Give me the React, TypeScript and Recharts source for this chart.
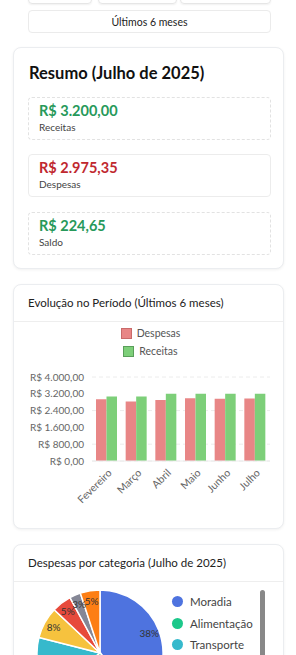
import React from "react";
import { BarChart, Bar, XAxis, YAxis, CartesianGrid, Legend, PieChart, Pie, Cell } from "recharts";

const meses = ["Fevereiro", "Março", "Abril", "Maio", "Junho", "Julho"];
const despesas = [2940, 2830, 2910, 2990, 2960, 2975.35];
const receitas = [3070, 3070, 3200, 3200, 3200, 3200];
const yTicks = [0, 800, 1600, 2400, 3200, 4000];

const categorias = ["Moradia", "Alimentação", "Transporte", "Lazer", "Saúde", "Educação", "Outros"];
const valoresCategoria = [1130, 800, 420, 240, 150, 85.35, 150];
const coresCategoria = ["#4e73df", "#1cc88a", "#36b9cc", "#f6c23e", "#e74a3b", "#858796", "#fd7e14"];

const resumoValores = [3200, 2975.35, 224.65];
const resumoLabels = ["Receitas", "Despesas", "Saldo"];

const FONT = "Lato, 'Noto Sans', sans-serif";
const COR_DESP = "#e88686";
const COR_REC = "#7dcf79";

function brl(v: number) {
  const [int, dec] = v.toFixed(2).split(".");
  const withDots = int.replace(/\B(?=(\d{3})+(?!\d))/g, ".");
  return "R$ " + withDots + "," + dec;
}

const barData = meses.map((m, i) => ({ mes: m, Despesas: despesas[i], Receitas: receitas[i] }));
const pieData = categorias.map((c, i) => ({ name: c, value: valoresCategoria[i] }));

const card: React.CSSProperties = {
  position: "absolute",
  left: 13,
  width: 271,
  background: "#fff",
  border: "1px solid #ebedf0",
  borderRadius: 8,
  boxShadow: "0 1px 3px rgba(0,0,0,0.06)",
  boxSizing: "border-box",
  overflow: "hidden",
};

const BarLegend = () => (
  <div style={{ fontFamily: FONT, fontSize: 10.5, color: "#555", paddingLeft: 18, marginTop: -2 }}>
    {[["Despesas", COR_DESP, "#c96a6a"], ["Receitas", COR_REC, "#5a9e5a"]].map(([n, c, b]) => (
      <div key={n} style={{ display: "flex", justifyContent: "center", alignItems: "center", height: 18 }}>
        <span style={{ width: 9, height: 9, background: c, border: `1px solid ${b}`, marginRight: 5, display: "inline-block" }} />
        <span>{n}</span>
      </div>
    ))}
  </div>
);

const XTick = (props: any) => {
  const { x, y, payload } = props;
  return (
    <g transform={`translate(${x + 3},${y + 2})`}>
      <text x={0} y={0} dy="0.35em" textAnchor="end" transform="rotate(-45)" fill="#666" fontSize={10.5} fontFamily={FONT}>
        {payload.value}
      </text>
    </g>
  );
};

const RAD = Math.PI / 180;
const pieLabel = (p: any) => {
  const r = p.outerRadius * 0.84;
  const x = p.cx + r * Math.cos(-p.midAngle * RAD);
  const y = p.cy + r * Math.sin(-p.midAngle * RAD);
  return (
    <text x={x} y={y} textAnchor="middle" dominantBaseline="central" fill="#333" fontSize={10} fontFamily={FONT}>
      {Math.round(p.percent * 100) + "%"}
    </text>
  );
};

export default function App() {
  return (
    <div style={{ position: "absolute", left: 0, top: 0, width: 296, height: 655, overflow: "hidden", background: "#fff", fontFamily: FONT }}>
      {/* abas cortadas no topo */}
      {[[28, 64], [98, 79], [180, 91]].map(([l, w], i) => (
        <div key={i} style={{ position: "absolute", left: l, top: -20, width: w, height: 24, border: "1px solid #e6e6e6", borderRadius: 4, boxShadow: "0 1px 2px rgba(0,0,0,0.06)", boxSizing: "border-box" }} />
      ))}
      <div style={{ position: "absolute", left: 28, top: 10, width: 243, height: 23, border: "1px solid #ebebeb", borderRadius: 4, boxSizing: "border-box", display: "flex", alignItems: "center", justifyContent: "center", fontSize: 10.5, color: "#222" }}>
        Últimos 6 meses
      </div>

      {/* Resumo */}
      <div style={{ ...card, top: 47, height: 222 }}>
        <div style={{ position: "absolute", left: 15, top: 15, fontSize: 16.5, fontWeight: 700, color: "#111" }}>Resumo (Julho de 2025)</div>
        {resumoValores.map((v, i) => (
          <div key={i} style={{ position: "absolute", left: 14, top: 49 + [0, 57, 115][i], width: 243, height: 43, border: i === 1 ? "1px solid #ececec" : "1px dashed #e2e2e2", borderRadius: 4, boxSizing: "border-box" }}>
            <div style={{ position: "absolute", left: 10, top: 4, fontSize: 14.5, fontWeight: 700, color: i === 1 ? "#c0282f" : "#27995a" }}>{brl(v)}</div>
            <div style={{ position: "absolute", left: 10, top: 23, fontSize: 10, color: "#444" }}>{resumoLabels[i]}</div>
          </div>
        ))}
      </div>

      {/* Evolução */}
      <div style={{ ...card, top: 284, height: 245 }}>
        <div style={{ position: "absolute", left: 14, top: 11, fontSize: 11.5, color: "#222" }}>Evolução no Período (Últimos 6 meses)</div>
        <div style={{ position: "absolute", left: 0, top: 36, width: 271, borderTop: "1px solid #eeeeee" }} />
        <div style={{ position: "absolute", left: -1, top: 37 }}>
          <BarChart width={271} height={200} data={barData} margin={{ top: 4, right: 14, bottom: 0, left: 0 }} barCategoryGap="10%" barGap={0}>
            <Legend verticalAlign="top" height={51} content={<BarLegend />} />
            <CartesianGrid vertical={false} stroke="#ececec" strokeDasharray="4 3" />
            <YAxis
              width={79}
              domain={[0, 4000]}
              ticks={yTicks}
              tickFormatter={brl}
              axisLine={false}
              tickLine={false}
              tick={{ fill: "#666", fontSize: 10, fontFamily: FONT }}
            />
            <XAxis dataKey="mes" height={61} interval={0} axisLine={{ stroke: "#ececec" }} tickLine={false} tick={<XTick />} />
            <Bar dataKey="Despesas" fill={COR_DESP} barSize={10.5} isAnimationActive={false} />
            <Bar dataKey="Receitas" fill={COR_REC} barSize={10.5} isAnimationActive={false} />
          </BarChart>
        </div>
      </div>

      {/* Despesas por categoria */}
      <div style={{ ...card, top: 544, height: 140 }}>
        <div style={{ position: "absolute", left: 14, top: 11, fontSize: 11.5, color: "#222" }}>Despesas por categoria (Julho de 2025)</div>
        <div style={{ position: "absolute", left: 0, top: 36, width: 271, borderTop: "1px solid #eeeeee" }} />
        <div style={{ position: "absolute", left: -1, top: 37 }}>
          <PieChart width={271} height={160} margin={{ top: 0, right: 0, bottom: 0, left: 0 }}>
            <Pie
              data={pieData}
              dataKey="value"
              nameKey="name"
              cx={87}
              cy={71}
              outerRadius={63}
              startAngle={90}
              endAngle={-270}
              stroke="#fff"
              strokeWidth={1.5}
              label={pieLabel}
              labelLine={false}
              isAnimationActive={false}
            >
              {pieData.map((d, i) => (
                <Cell key={d.name} fill={coresCategoria[i]} />
              ))}
            </Pie>
          </PieChart>
        </div>
        <div style={{ position: "absolute", left: 158, top: 46, fontSize: 11.5, color: "#444" }}>
          {categorias.map((c, i) => (
            <div key={c} style={{ display: "flex", alignItems: "center", height: 21.5 }}>
              <span style={{ width: 11, height: 11, borderRadius: "50%", background: coresCategoria[i], marginRight: 7, display: "inline-block" }} />
              <span>{c}</span>
            </div>
          ))}
        </div>
        <div style={{ position: "absolute", left: 246, top: 45, width: 4.5, height: 120, background: "#888", borderRadius: 3 }} />
      </div>
    </div>
  );
}
